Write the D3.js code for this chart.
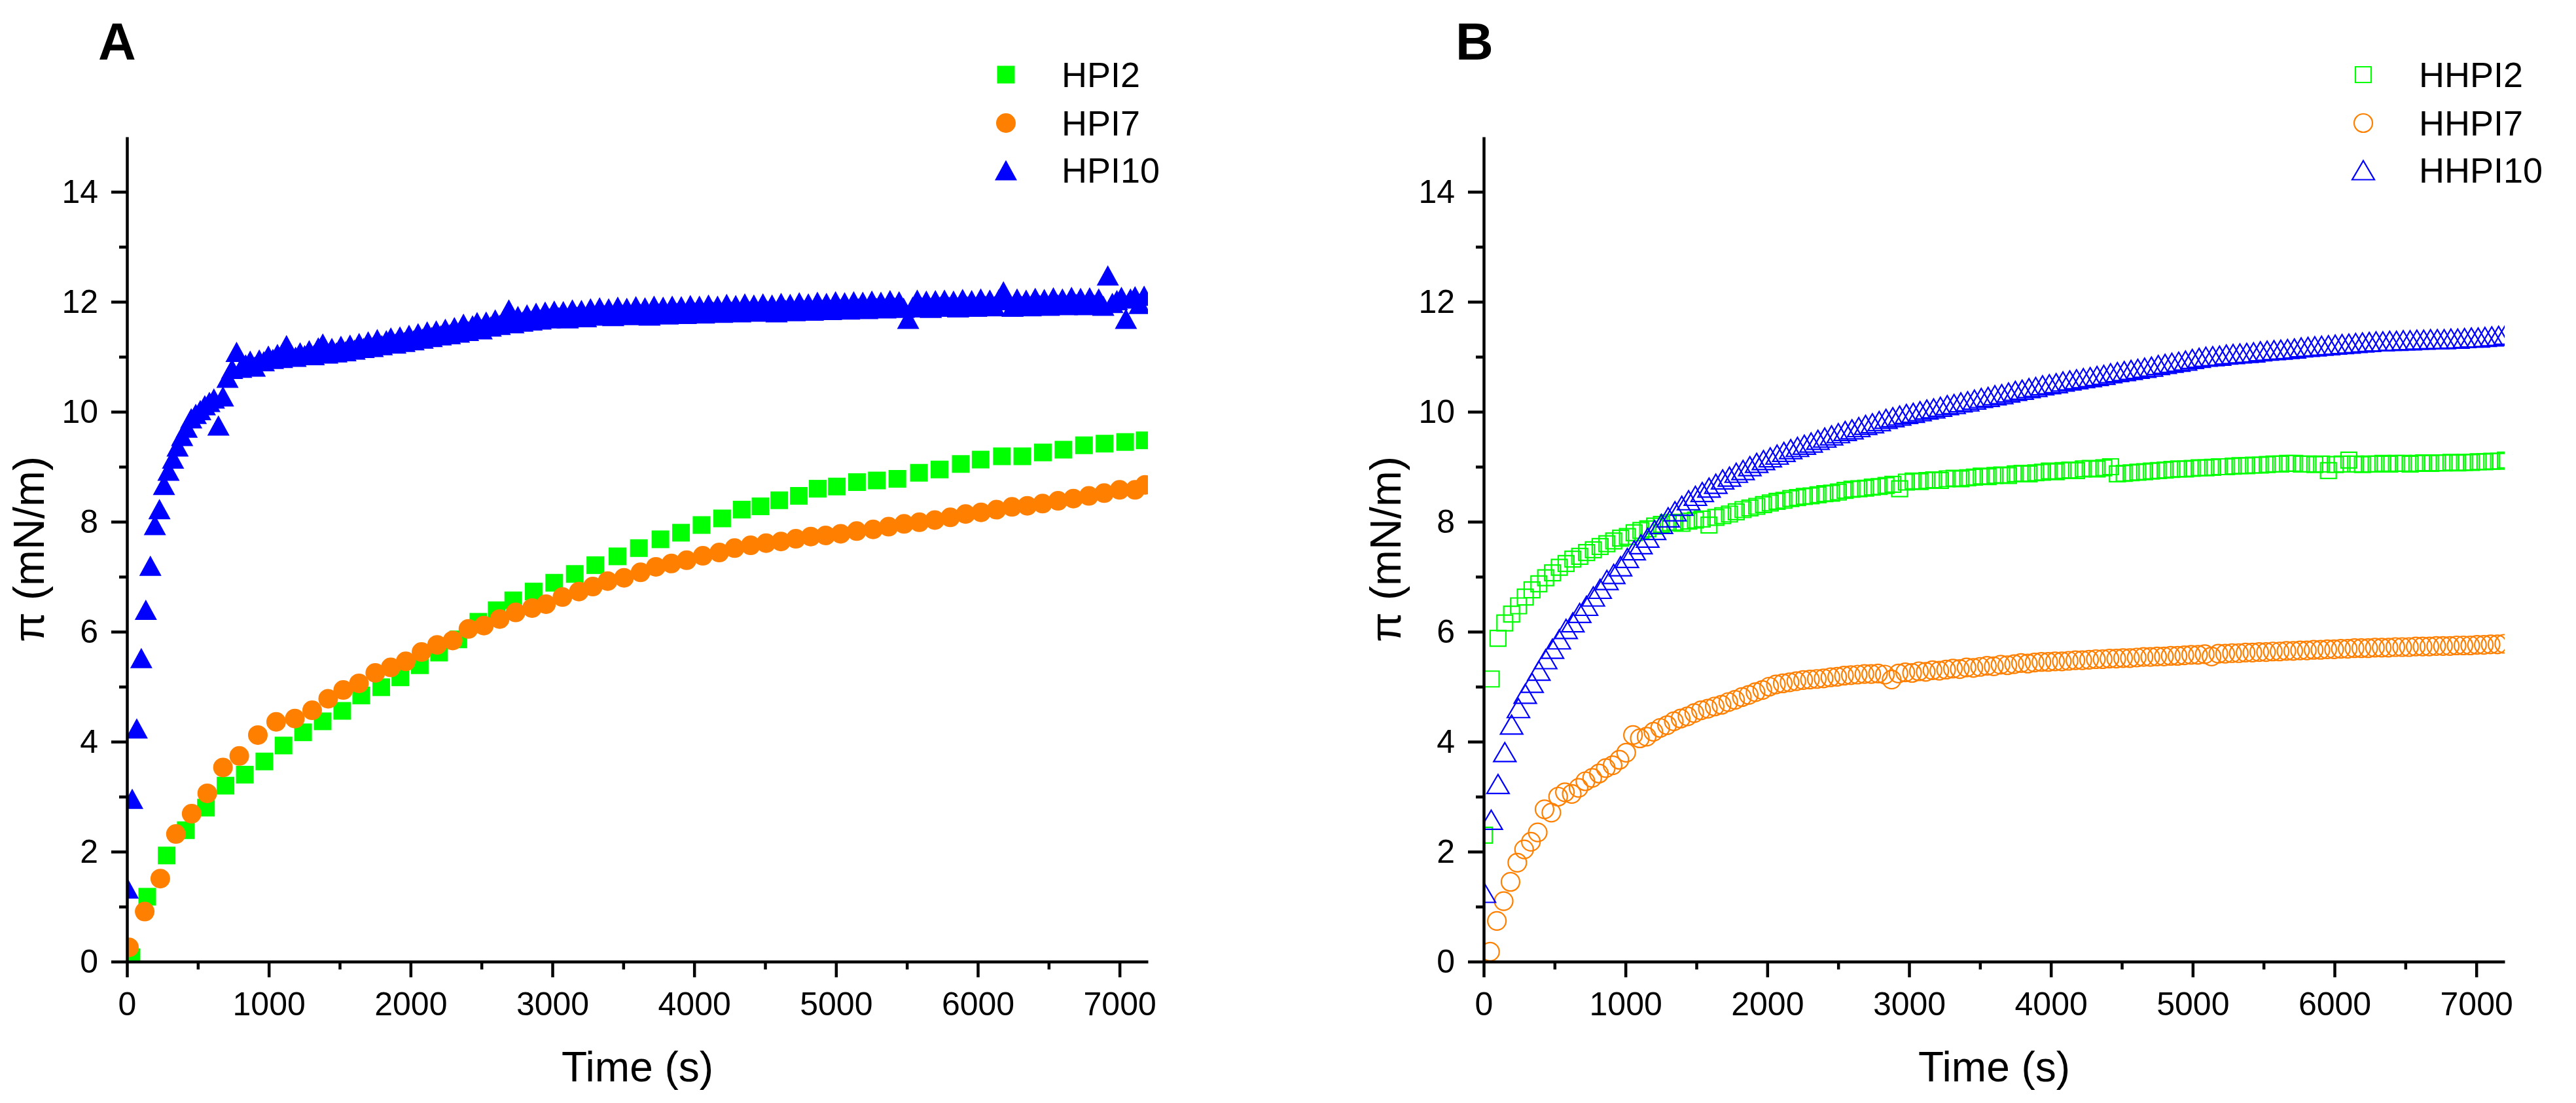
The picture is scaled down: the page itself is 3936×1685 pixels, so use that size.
<!DOCTYPE html>
<html>
<head>
<meta charset="utf-8">
<script src="https://cdn.jsdelivr.net/npm/d3@7"></script>
<style>
html,body{margin:0;padding:0;background:#fff;}
svg{display:block;}
text{font-family:"Liberation Sans",Arial,Helvetica,sans-serif;}
</style>
</head>
<body>
<svg id="chart" width="3936" height="1685"></svg>
<script>
// ---------------- DATA ----------------
const xMajorTicks = [0,1000,2000,3000,4000,5000,6000,7000];
const yMajorTicks = [0,2,4,6,8,10,12,14];
const xMinorTicks = [500,1500,2500,3500,4500,5500,6500];
const yMinorTicks = [1,3,5,7,9,11,13];
const xDomain = [0,7200];
const yDomain = [0,15];

const panelLabels = ["A","B"];
const xTitle = "Time (s)";
const yTitle = "\u03c0 (mN/m)";

// Panel A
const hpiNames = ["HPI2","HPI7","HPI10"];
const hpi2Time = [32,143,280,415,557,695,831,969,1104,1242,1380,1518,1652,1793,1928,2065,2201,2337,2478,2607,2724,2868,3013,3158,3303,3459,3610,3762,3907,4052,4197,4335,4468,4600,4738,4871,5006,5148,5288,5433,5585,5730,5880,6020,6170,6314,6459,6604,6749,6894,7039,7177];
const hpi2Vals = [0.08,1.18,1.93,2.39,2.80,3.20,3.40,3.64,3.93,4.17,4.37,4.56,4.84,4.99,5.17,5.39,5.62,5.86,6.18,6.39,6.57,6.73,6.89,7.05,7.21,7.37,7.52,7.68,7.80,7.94,8.06,8.22,8.28,8.39,8.47,8.60,8.64,8.72,8.75,8.78,8.89,8.95,9.05,9.13,9.19,9.19,9.26,9.31,9.39,9.42,9.45,9.48];

const hpi7Time = [14,125,235,345,456,566,677,792,923,1052,1184,1306,1419,1525,1636,1751,1860,1966,2077,2187,2297,2408,2517,2628,2741,2857,2955,3071,3187,3285,3390,3505,3622,3730,3839,3947,4061,4177,4285,4398,4507,4612,4717,4822,4927,5033,5146,5262,5371,5480,5588,5697,5806,5914,6023,6132,6241,6349,6457,6566,6674,6783,6891,7000,7109,7180];
const hpi7Vals = [0.26,0.91,1.51,2.32,2.69,3.06,3.53,3.74,4.12,4.36,4.42,4.57,4.78,4.94,5.06,5.25,5.35,5.46,5.63,5.76,5.84,6.05,6.11,6.23,6.35,6.43,6.50,6.63,6.73,6.82,6.92,6.98,7.08,7.18,7.24,7.30,7.38,7.44,7.52,7.57,7.61,7.64,7.69,7.73,7.75,7.78,7.83,7.86,7.91,7.96,7.99,8.03,8.08,8.14,8.17,8.22,8.27,8.29,8.33,8.38,8.42,8.47,8.52,8.58,8.58,8.67];

// HPI10 sampled every 32 s starting at 5 s
const hpi10Start = 5, hpi10Step = 32;
const hpi10Vals = [
1.33,2.96,4.24,5.52,6.40,7.20,7.94,8.23,8.67,8.93,
9.15,9.37,9.56,9.71,9.88,9.96,10.03,10.12,10.18,10.24,
9.75,10.28,10.62,10.78,11.09,10.80,10.86,10.93,10.82,10.95,
10.92,11.02,10.96,11.05,10.98,11.21,11.04,11.00,11.08,11.03,
11.12,11.03,11.17,11.24,11.06,11.16,11.08,11.20,11.10,11.22,
11.13,11.25,11.16,11.28,11.18,11.32,11.21,11.30,11.35,11.24,
11.37,11.27,11.40,11.30,11.43,11.33,11.46,11.36,11.48,11.39,
11.51,11.41,11.54,11.44,11.60,11.47,11.57,11.63,11.50,11.64,
11.55,11.68,11.58,11.70,11.86,11.61,11.74,11.64,11.77,11.66,
11.80,11.68,11.82,11.70,11.84,11.72,11.83,11.70,11.86,11.73,
11.85,11.72,11.88,11.75,11.90,11.76,11.88,11.74,11.91,11.77,
11.89,11.76,11.92,11.78,11.90,11.75,11.93,11.79,11.91,11.77,
11.93,11.80,11.92,11.78,11.94,11.81,11.93,11.79,11.95,11.82,
11.93,11.80,11.96,11.82,11.94,11.81,11.97,11.83,11.95,11.82,
11.97,11.84,11.95,11.81,11.98,11.85,11.96,11.83,11.99,11.85,
11.97,11.84,12.00,11.86,11.98,11.85,12.01,11.87,11.99,11.86,
12.01,11.88,12.00,11.87,12.02,11.89,12.00,11.88,12.03,11.90,
12.01,11.89,11.69,11.91,12.04,11.90,12.02,11.89,12.03,11.91,
12.04,11.91,12.02,11.90,12.05,11.92,12.03,11.91,12.06,11.93,
12.04,11.92,12.05,12.19,12.03,11.91,12.06,11.93,12.04,11.92,
12.07,11.94,12.05,11.93,12.08,11.95,12.06,11.94,12.09,11.96,
12.07,11.94,12.08,11.95,12.06,11.93,12.48,11.98,12.03,12.09,
11.69,12.06,12.10,11.96,12.11];

// Panel B
const hhpiNames = ["HHPI2","HHPI7","HHPI10"];
const hhpi2Start = 5, hhpi2Step = 48;
const hhpi2Vals = [
2.30,5.14,5.88,6.16,6.32,6.47,6.63,6.76,6.87,6.98,
7.07,7.17,7.24,7.32,7.37,7.44,7.49,7.55,7.60,7.65,
7.70,7.73,7.80,7.84,7.87,7.92,7.95,7.98,7.99,7.97,
8.01,8.03,8.05,7.94,8.08,8.11,8.14,8.18,8.22,8.25,
8.28,8.31,8.34,8.37,8.39,8.42,8.44,8.46,8.47,8.49,
8.51,8.52,8.54,8.57,8.59,8.60,8.61,8.63,8.64,8.66,
8.68,8.60,8.72,8.74,8.73,8.75,8.76,8.75,8.78,8.79,
8.78,8.80,8.81,8.83,8.82,8.84,8.85,8.84,8.87,8.88,
8.87,8.89,8.90,8.92,8.91,8.93,8.94,8.93,8.96,8.97,
8.96,8.98,9.00,8.87,8.88,8.89,8.90,8.91,8.92,8.93,
8.94,8.95,8.96,8.96,8.97,8.98,8.98,8.99,9.00,9.00,
9.01,9.02,9.02,9.03,9.03,9.04,9.05,9.05,9.06,9.06,
9.05,9.05,9.04,9.05,8.93,9.04,9.05,9.12,9.05,9.04,
9.05,9.05,9.06,9.05,9.06,9.06,9.05,9.06,9.07,9.06,
9.07,9.07,9.08,9.07,9.08,9.08,9.09,9.09,9.10,9.10,
9.12];

const hhpi7Start = 45, hhpi7Step = 48;
const hhpi7Vals = [
0.18,0.74,1.10,1.45,1.80,2.04,2.18,2.35,2.77,2.71,
3.00,3.08,3.05,3.16,3.28,3.34,3.42,3.52,3.57,3.67,
3.80,4.12,4.06,4.09,4.18,4.25,4.30,4.37,4.42,4.46,
4.52,4.57,4.60,4.64,4.67,4.72,4.76,4.81,4.85,4.90,
4.94,5.00,5.04,5.06,5.08,5.10,5.12,5.13,5.14,5.15,
5.17,5.18,5.20,5.21,5.22,5.23,5.23,5.24,5.22,5.13,
5.24,5.26,5.25,5.28,5.27,5.30,5.29,5.31,5.33,5.32,
5.35,5.34,5.36,5.38,5.37,5.40,5.39,5.41,5.43,5.42,
5.44,5.45,5.45,5.46,5.46,5.47,5.48,5.48,5.49,5.50,
5.50,5.51,5.51,5.52,5.52,5.53,5.54,5.54,5.55,5.55,
5.56,5.56,5.57,5.58,5.58,5.59,5.55,5.60,5.60,5.61,
5.61,5.62,5.62,5.63,5.63,5.64,5.64,5.65,5.65,5.66,
5.66,5.67,5.67,5.68,5.68,5.69,5.69,5.70,5.70,5.70,
5.71,5.71,5.71,5.72,5.72,5.72,5.73,5.73,5.73,5.74,
5.74,5.74,5.75,5.75,5.75,5.76,5.76,5.77,5.77,5.78];

const hhpi10Start = 5, hhpi10Step = 48;
const hhpi10Vals = [
1.25,2.58,3.23,3.81,4.31,4.61,4.87,5.07,5.29,5.50,
5.69,5.86,6.05,6.17,6.34,6.47,6.64,6.78,6.94,7.05,
7.19,7.34,7.48,7.59,7.71,7.85,7.96,8.08,8.19,8.29,
8.39,8.47,8.54,8.62,8.69,8.77,8.82,8.89,8.94,9.01,
9.07,9.12,9.17,9.22,9.27,9.32,9.36,9.40,9.44,9.49,
9.53,9.57,9.61,9.65,9.68,9.72,9.76,9.79,9.83,9.87,
9.90,9.93,9.96,9.98,10.01,10.04,10.06,10.09,10.12,10.14,
10.17,10.19,10.22,10.25,10.27,10.30,10.32,10.35,10.38,10.40,
10.43,10.45,10.48,10.50,10.52,10.55,10.57,10.59,10.61,10.63,
10.65,10.67,10.70,10.72,10.74,10.76,10.78,10.80,10.82,10.85,
10.87,10.89,10.91,10.93,10.96,10.98,11.00,11.01,11.02,11.04,
11.05,11.06,11.07,11.08,11.10,11.11,11.12,11.13,11.14,11.15,
11.17,11.18,11.19,11.20,11.21,11.22,11.23,11.24,11.25,11.26,
11.27,11.28,11.28,11.29,11.29,11.30,11.30,11.31,11.31,11.32,
11.32,11.32,11.33,11.33,11.34,11.35,11.35,11.36,11.37,11.38,
11.40];

const seriesColors = ["#00ff00","#ff8000","#0000ff"];

// ---------------- BUILD ----------------
function zipTimes(times, vals){ return vals.map((v,i)=>({t:times[i], v:v})); }
function sampled(start, step, vals){ return vals.map((v,i)=>({t:start+i*step, v:v})); }

const svg = d3.select("#chart");
svg.append("rect").attr("width",3936).attr("height",1685).attr("fill","#fff");

const FONT = '"Liberation Sans", Arial, Helvetica, sans-serif';

function shapePath(shape, s){
  if(shape==="square"){ const a=s.w/2; return `M${-a},${-a}H${a}V${a}H${-a}Z`; }
  if(shape==="circle"){ const r=s.w/2; return `M${r},0A${r},${r} 0 1 1 ${-r},0A${r},${r} 0 1 1 ${r},0Z`; }
  const w=s.w/2, h=s.h/2; return `M0,${-h}L${w},${h}L${-w},${h}Z`;
}

const panels = [
  { label:"A", labelX:150, xr:[194,1754], names:hpiNames, filled:true,
    legendX:1537, textX:1622,
    series:[
      {data:zipTimes(hpi2Time,hpi2Vals), shape:"square", size:{w:27}},
      {data:zipTimes(hpi7Time,hpi7Vals), shape:"circle", size:{w:30}},
      {data:sampled(hpi10Start,hpi10Step,hpi10Vals), shape:"triangle", size:{w:34,h:31}}
    ]},
  { label:"B", labelX:2224, xr:[2267,3827], names:hhpiNames, filled:false,
    legendX:3611, textX:3696,
    series:[
      {data:sampled(hhpi2Start,hhpi2Step,hhpi2Vals), shape:"square", size:{w:24}},
      {data:sampled(hhpi7Start,hhpi7Step,hhpi7Vals), shape:"circle", size:{w:28}},
      {data:sampled(hhpi10Start,hhpi10Step,hhpi10Vals), shape:"triangle", size:{w:34,h:29}}
    ]}
];

const yTop = 209, yBottom = 1469;
const legendRows = [114,188,260];

panels.forEach((p,pi)=>{
  const x = d3.scaleLinear().domain(xDomain).range(p.xr);
  const y = d3.scaleLinear().domain(yDomain).range([yBottom,yTop]);
  const g = svg.append("g");

  const clipId = "clip"+pi;
  svg.append("defs").append("clipPath").attr("id",clipId)
    .append("rect").attr("x",p.xr[0]).attr("y",yTop)
    .attr("width",p.xr[1]-p.xr[0]).attr("height",yBottom-yTop);

  const plot = g.append("g").attr("clip-path",`url(#${clipId})`);
  p.series.forEach((s,si)=>{
    const col = seriesColors[si];
    plot.append("g").selectAll("path").data(s.data).enter().append("path")
      .attr("d", shapePath(s.shape, s.size))
      .attr("transform", d=>`translate(${x(d.t)},${y(d.v)})`)
      .attr("fill", p.filled ? col : "none")
      .attr("stroke", p.filled ? "none" : col)
      .attr("stroke-width", p.filled ? 0 : 2.2);
  });

  // axes
  const styleAxis = (ag)=>{
    ag.select(".domain").attr("stroke","#000").attr("stroke-width",4.5);
    ag.selectAll(".tick line").attr("stroke","#000").attr("stroke-width",4.5);
    ag.selectAll("text").attr("font-size",50).attr("font-family",FONT).attr("fill","#000");
  };
  const xMinorG = g.append("g").attr("transform",`translate(0,${yBottom})`)
    .call(d3.axisBottom(x).tickValues(xMinorTicks).tickSize(12).tickSizeOuter(0).tickFormat(""));
  styleAxis(xMinorG); xMinorG.select(".domain").remove();
  const yMinorG = g.append("g").attr("transform",`translate(${p.xr[0]},0)`)
    .call(d3.axisLeft(y).tickValues(yMinorTicks).tickSize(12).tickSizeOuter(0).tickFormat(""));
  styleAxis(yMinorG); yMinorG.select(".domain").remove();

  const xAxisG = g.append("g").attr("transform",`translate(0,${yBottom})`)
    .call(d3.axisBottom(x).tickValues(xMajorTicks).tickSize(24).tickSizeOuter(0).tickPadding(22).tickFormat(d3.format("d")));
  styleAxis(xAxisG);
  const yAxisG = g.append("g").attr("transform",`translate(${p.xr[0]},0)`)
    .call(d3.axisLeft(y).tickValues(yMajorTicks).tickSize(24).tickSizeOuter(0).tickPadding(20).tickFormat(d3.format("d")));
  styleAxis(yAxisG);

  // titles
  g.append("text").attr("x",(p.xr[0]+p.xr[1])/2).attr("y",1652)
    .attr("text-anchor","middle").attr("font-size",64).attr("fill","#000").text(xTitle);
  g.append("text").attr("transform",`translate(${p.xr[0]-127},${(yTop+yBottom)/2}) rotate(-90)`)
    .attr("text-anchor","middle").attr("font-size",66).attr("fill","#000").text(yTitle);

  // panel label
  g.append("text").attr("x",p.labelX).attr("y",91).attr("font-size",80)
    .attr("font-weight","bold").attr("fill","#000").text(p.label);

  // legend
  p.series.forEach((s,si)=>{
    const col = seriesColors[si];
    g.append("path").attr("d",shapePath(s.shape,s.size))
      .attr("transform",`translate(${p.legendX},${legendRows[si]})`)
      .attr("fill", p.filled ? col : "none")
      .attr("stroke", p.filled ? "none" : col)
      .attr("stroke-width", p.filled ? 0 : 2.2);
    g.append("text").attr("x",p.textX).attr("y",legendRows[si]).attr("dy","0.35em")
      .attr("font-size",54).attr("fill","#000").text(p.names[si]);
  });
});
</script>
</body>
</html>
